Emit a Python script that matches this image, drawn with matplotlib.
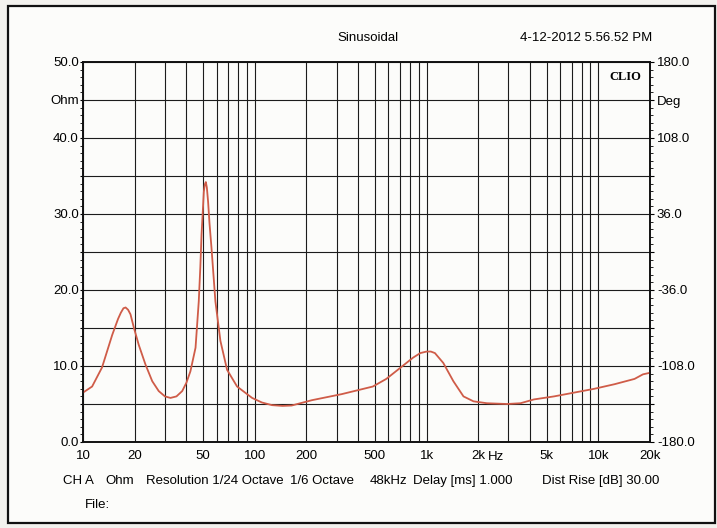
import matplotlib
matplotlib.use("Agg")
from matplotlib import pyplot as plt
import matplotlib.ticker as mtick
from matplotlib.patches import Rectangle
import numpy as np

# Impedance curve (Hz, Ohm)
freq = [10, 11.3, 12.9, 14.8, 16.0, 16.6, 17.2, 17.7, 18.3, 18.9, 19.8, 21.1, 23.1,
        25.3, 27.6, 30.0, 32.3, 35.0, 37.8, 40.0, 42.2, 45.2, 47.2, 48.2, 49.0, 50.0,
        50.5, 51.2, 51.9, 52.6, 53.5, 54.5, 56.0, 59.0, 63.1, 69.0, 78.9, 96.5,
        110, 126, 145, 164, 215, 321, 487, 583, 698, 835, 920, 1000, 1060,
        1119, 1252, 1433, 1641, 1877, 2247, 2942, 3522, 4217, 5524, 7234, 9474,
        12410, 16250, 18190, 19900]
ohm = [6.5, 7.3, 9.8, 14.1, 16.2, 17.0, 17.6, 17.7, 17.4, 16.8, 15.0, 12.8, 10.2,
       8.0, 6.7, 6.0, 5.8, 6.0, 6.7, 7.8, 9.3, 12.4, 18.5, 23.0, 27.3, 31.0,
       32.9, 33.9, 34.2, 33.5, 31.6, 28.8, 25.5, 18.5, 13.3, 9.5, 7.3, 5.8,
       5.2, 4.85, 4.75, 4.8, 5.5, 6.3, 7.3, 8.3, 9.7, 11.1, 11.7, 11.9, 11.9,
       11.7, 10.4, 8.0, 6.0, 5.35, 5.1, 5.0, 5.1, 5.6, 6.0, 6.5, 7.0,
       7.6, 8.3, 8.9, 9.1]

x_ticks = [10, 20, 50, 100, 200, 500, 1000, 2000, 5000, 10000, 20000]
x_labels = ['10', '20', '50', '100', '200', '500', '1k', '2k', '5k', '10k', '20k']
ohm_ticks = [0, 5, 10, 15, 20, 25, 30, 35, 40, 45, 50]
ohm_labels = ['0.0', '', '10.0', '', '20.0', '', '30.0', '', '40.0', 'Ohm', '50.0']
deg_ticks = [-180, -144, -108, -72, -36, 0, 36, 72, 108, 144, 180]
deg_labels = ['-180.0', '', '-108.0', '', '-36.0', '', '36.0', '', '108.0', 'Deg', '180.0']
footer = [('CH A', 63), ('Ohm', 105), ('Resolution 1/24 Octave', 146), ('1/6 Octave', 290),
          ('48kHz', 370), ('Delay [ms] 1.000', 413), ('Dist Rise [dB] 30.00', 542)]

plt.rcParams['font.family'] = ['Liberation Sans', 'DejaVu Sans']
fs = 9.5
W, H = 717, 528
grid_c = '#1c1c1c'

def fx(px):
    return px / W

def fy(py):
    return 1 - py / H

fig = plt.figure(figsize=(W / 100, H / 100), dpi=100)
fig.patch.set_facecolor('#f3f2ee')
# рамка вокруг всего графика
frame = Rectangle((fx(8), fy(523)), fx(715) - fx(8), fy(6) - fy(523),
                  transform=fig.transFigure, facecolor='#fcfcfa',
                  edgecolor='#111111', lw=1.6, zorder=-10)
fig.add_artist(frame)

ax = fig.add_axes([fx(83), fy(442), fx(650) - fx(83), fy(62) - fy(442)])
ax.set_facecolor('#fcfcfa')
ax.set_xscale('log')
ax.set_xlim(10, 20000)
ax.set_ylim(0, 50)

ax.plot(freq, ohm, color='#cf5c48', lw=1.3, zorder=3)

# сетка
minor_x = [m * 10 ** d for d in range(1, 5) for m in range(2, 10) if m * 10 ** d < 20000]
ax.set_xticks(x_ticks)
ax.set_xticklabels(x_labels)
ax.xaxis.set_minor_locator(mtick.FixedLocator(minor_x))
ax.xaxis.set_minor_formatter(mtick.NullFormatter())
ax.set_yticks(ohm_ticks)
ax.set_yticklabels(ohm_labels)
ax.yaxis.set_minor_locator(mtick.MultipleLocator(1))
ax.grid(True, which='both', axis='x', color=grid_c, lw=0.8)
ax.grid(True, which='major', axis='y', color=grid_c, lw=0.8)

ax.tick_params(axis='x', which='both', length=0, pad=5.5, labelsize=fs)
ax.tick_params(axis='y', which='major', direction='out', length=2.5, width=0.8,
               pad=0.5, labelsize=fs)
ax.tick_params(axis='y', which='minor', direction='out', length=2, width=0.6)
for s in ax.spines.values():
    s.set_linewidth(1.2)
    s.set_color('#111111')

ax2 = ax.twinx()
ax2.set_ylim(-180, 180)
ax2.set_yticks(deg_ticks)
ax2.set_yticklabels(deg_labels)
ax2.yaxis.set_minor_locator(mtick.MultipleLocator(7.2))
ax2.tick_params(axis='y', which='major', direction='out', length=3, width=0.8,
                pad=2, labelsize=fs)
ax2.tick_params(axis='y', which='minor', direction='out', length=2, width=0.6)
for s in ax2.spines.values():
    s.set_linewidth(1.2)
    s.set_color('#111111')

ax.text(0.985, 0.975, 'CLIO', transform=ax.transAxes, ha='right', va='top',
        family='Liberation Serif', fontweight='bold', fontsize=9, zorder=5)

fig.text(fx(368), fy(38), 'Sinusoidal', ha='center', va='center', fontsize=fs)
fig.text(fx(652), fy(38), '4-12-2012 5.56.52 PM', ha='right', va='center', fontsize=fs)
fig.text(fx(488), fy(457), 'Hz', ha='left', va='center', fontsize=fs)
for label, xpos in footer:
    fig.text(fx(xpos), fy(481), label, ha='left', va='center', fontsize=fs)
fig.text(fx(85), fy(505), 'File:', ha='left', va='center', fontsize=fs)

fig.savefig('out.png', dpi=100, facecolor=fig.get_facecolor())
